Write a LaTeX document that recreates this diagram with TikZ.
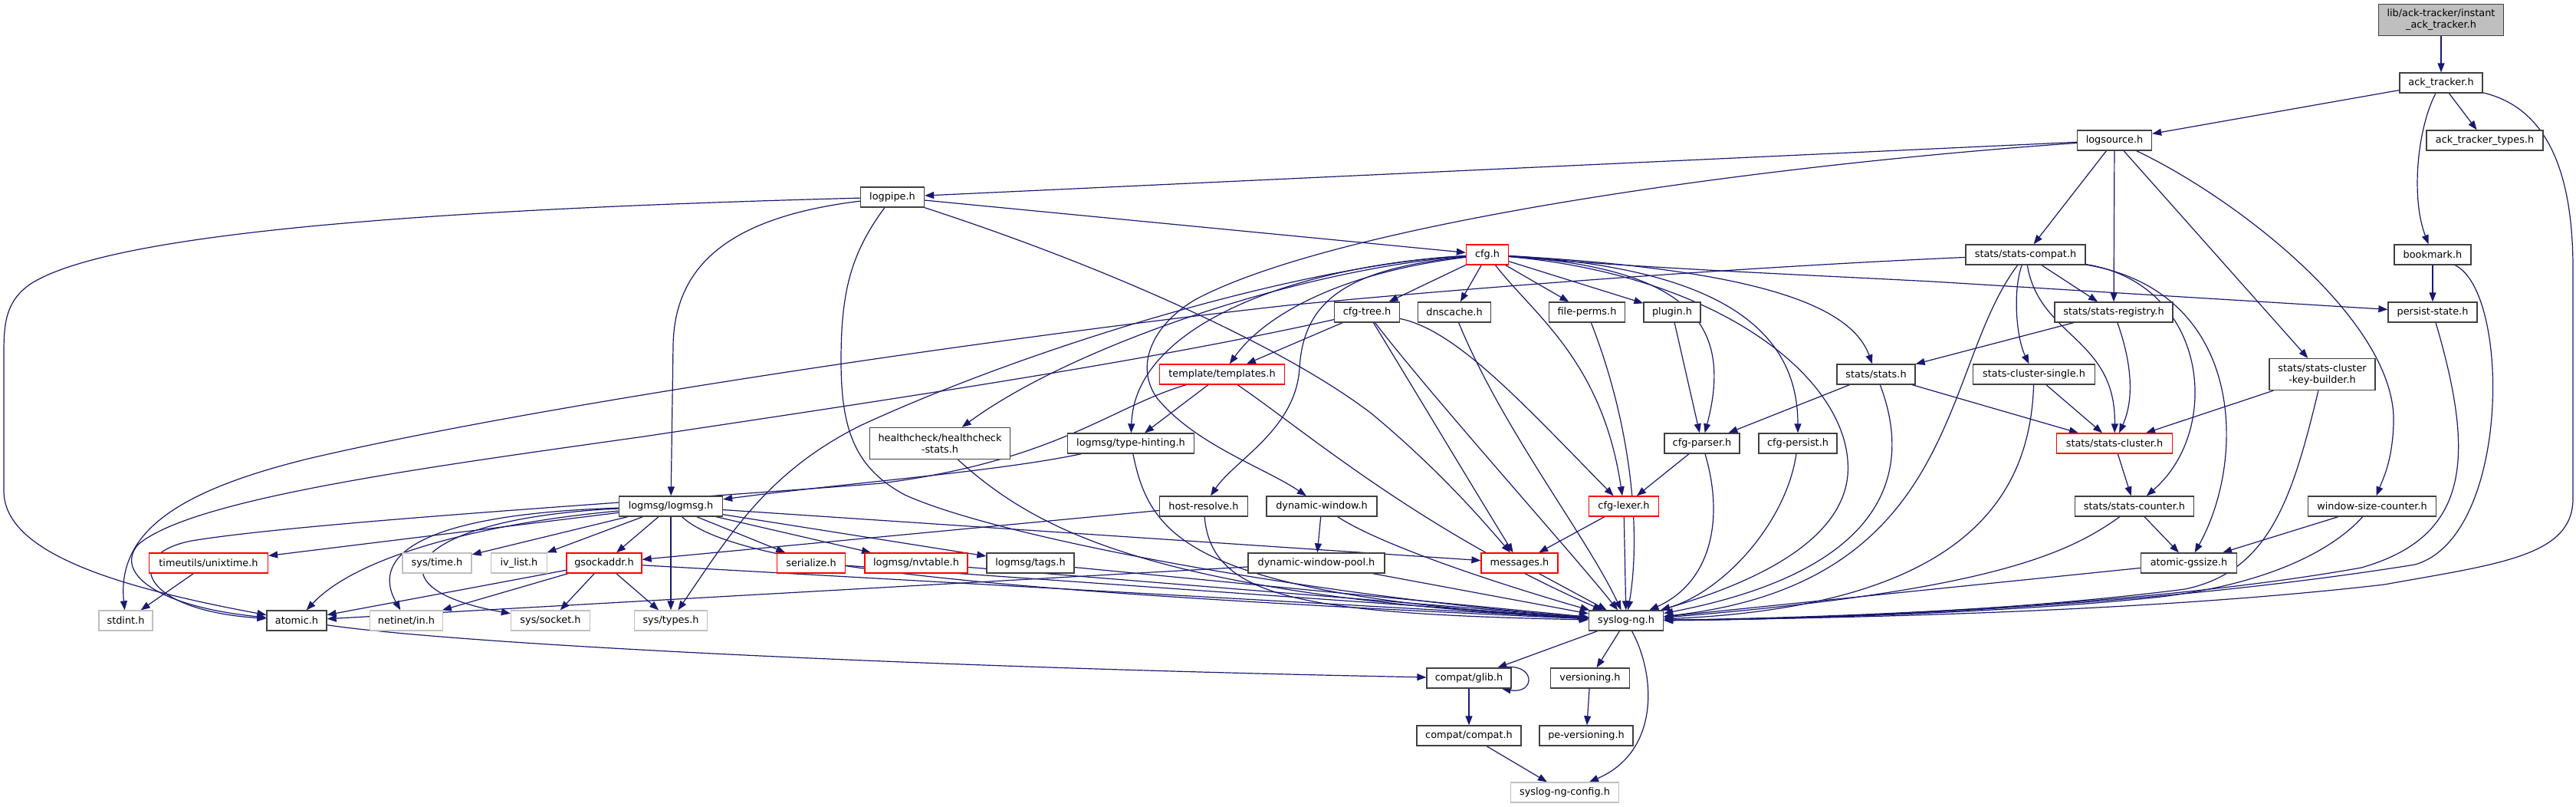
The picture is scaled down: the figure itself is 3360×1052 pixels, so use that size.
\documentclass[tikz,border=0pt]{standalone}
\usepackage{fontspec}
\newfontfamily\dvs{DejaVu Sans}
\usetikzlibrary{arrows.meta}
\definecolor{eblue}{HTML}{191970}
\definecolor{ngray}{HTML}{404040}
\definecolor{lgray}{HTML}{BFBFBF}
\pgfdeclarelayer{bg}
\pgfsetlayers{bg,main}
\begin{document}
\begin{tikzpicture}[x=1pt,y=-1pt,
  nd/.style={draw=ngray, line width=1.3pt, fill=white, inner sep=0pt, minimum height=26pt,
    font=\dvs\fontsize{12.85pt}{15pt}\selectfont, align=center, text=black},
  rd/.style={nd, draw=red},
  gy/.style={nd, draw=lgray},
  tp/.style={nd, fill=lgray, minimum height=41pt},
  e/.style={draw=eblue, line width=1.2pt, -{Triangle[length=12pt,width=9pt]}}]
\useasboundingbox (0,0) rectangle (3360,1052);
% nodes
\node[tp, minimum width=163pt] (top) at (3184,26) {lib/ack-tracker/instant\\\_ack\_tracker.h};
\node[nd, minimum width=108pt] (ackt) at (3184,108) {ack\_tracker.h};
\node[nd, minimum width=97pt] (logsource) at (2758,183) {logsource.h};
\node[nd, minimum width=152pt] (acktypes) at (3241,183) {ack\_tracker\_types.h};
\node[nd, minimum width=83pt] (logpipe) at (1164,257) {logpipe.h};
\node[rd, minimum width=55pt] (cfg) at (1940,332) {cfg.h};
\node[nd, minimum width=156pt] (statscompat) at (2642,332) {stats/stats-compat.h};
\node[nd, minimum width=100pt] (bookmark) at (3173,332) {bookmark.h};
\node[nd, minimum width=85pt] (cfgtree) at (1783,407) {cfg-tree.h};
\node[nd, minimum width=95pt] (dnscache) at (1897,407) {dnscache.h};
\node[nd, minimum width=99pt] (fileperms) at (2070,407) {file-perms.h};
\node[nd, minimum width=74pt] (plugin) at (2181,407) {plugin.h};
\node[nd, minimum width=154pt] (statsreg) at (2757,407) {stats/stats-registry.h};
\node[nd, minimum width=116pt] (persist) at (3173,407) {persist-state.h};
\node[rd, minimum width=163pt] (templates) at (1594,488) {template/templates.h};
\node[nd, minimum width=102pt] (stats) at (2447,488) {stats/stats.h};
\node[nd, minimum width=159pt] (single) at (2653,488) {stats-cluster-single.h};
\node[nd, minimum width=138pt, minimum height=41pt] (keyb) at (3029,488) {stats/stats-cluster\\-key-builder.h};
\node[nd, minimum width=183pt, minimum height=41pt] (health) at (1226,578) {healthcheck/healthcheck\\-stats.h};
\node[nd, minimum width=165pt] (typeh) at (1475,578) {logmsg/type-hinting.h};
\node[nd, minimum width=98pt] (cfgparser) at (2220,578) {cfg-parser.h};
\node[nd, minimum width=102pt] (cfgpersist) at (2345,578) {cfg-persist.h};
\node[rd, minimum width=151pt] (cluster) at (2758,578) {stats/stats-cluster.h};
\node[nd, minimum width=135pt] (logmsg) at (875,660) {logmsg/logmsg.h};
\node[nd, minimum width=115pt] (hostres) at (1570,660) {host-resolve.h};
\node[nd, minimum width=144pt] (dynwin) at (1724,660) {dynamic-window.h};
\node[rd, minimum width=91pt] (cfglexer) at (2118,660) {cfg-lexer.h};
\node[nd, minimum width=155pt] (counter) at (2784,660) {stats/stats-counter.h};
\node[nd, minimum width=167pt] (wsc) at (3094,660) {window-size-counter.h};
\node[rd, minimum width=155pt] (unixtime) at (272,734) {timeutils/unixtime.h};
\node[gy, minimum width=90pt] (systime) at (570,734) {sys/time.h};
\node[gy, minimum width=73pt] (ivlist) at (677,734) {iv\_list.h};
\node[rd, minimum width=98pt] (gsock) at (788,734) {gsockaddr.h};
\node[rd, minimum width=89pt] (serialize) at (1058,734) {serialize.h};
\node[rd, minimum width=134pt] (nvtable) at (1195,734) {logmsg/nvtable.h};
\node[nd, minimum width=114pt] (tags) at (1344,734) {logmsg/tags.h};
\node[nd, minimum width=178pt] (dwpool) at (1717,734) {dynamic-window-pool.h};
\node[rd, minimum width=100pt] (messages) at (1982,734) {messages.h};
\node[nd, minimum width=125pt] (gssize) at (2855,734) {atomic-gssize.h};
\node[gy, minimum width=70pt] (stdint) at (164,809) {stdint.h};
\node[nd, minimum width=78pt] (atomic) at (387,809) {atomic.h};
\node[gy, minimum width=95pt] (netinet) at (530,809) {netinet/in.h};
\node[gy, minimum width=103pt] (syssocket) at (718,809) {sys/socket.h};
\node[gy, minimum width=95pt] (systypes) at (875,809) {sys/types.h};
\node[nd, minimum width=97pt] (syslogng) at (2121,809) {syslog-ng.h};
\node[nd, minimum width=110pt] (glib) at (1916,884) {compat/glib.h};
\node[nd, minimum width=103pt] (versioning) at (2074,884) {versioning.h};
\node[nd, minimum width=136pt] (compat) at (1916,959) {compat/compat.h};
\node[nd, minimum width=122pt] (pever) at (2069,959) {pe-versioning.h};
\node[gy, minimum width=141pt] (config) at (2041,1033) {syslog-ng-config.h};
% edges
\begin{pgfonlayer}{bg}
\draw[e] (top) -- (ackt);
\draw[e] (ackt) -- (logsource);
\draw[e] (ackt) -- (acktypes);
\draw[e] (ackt) .. controls (3152,170) and (3145,260) .. (bookmark);
\draw[e] (ackt) .. controls (3320,140) and (3356,220) .. (3356,350) -- (3356,650) .. controls (3356,725) and (3260,735) .. (3110,762) .. controls (2800,798) and (2400,806) .. (syslogng);
\draw[e] (logsource) -- (logpipe);
\draw[e] (logsource) .. controls (2300,215) and (1750,290) .. (1560,390) .. controls (1500,425) and (1480,480) .. (1510,520) .. controls (1560,580) and (1650,610) .. (dynwin);
\draw[e] (logsource) -- (statscompat);
\draw[e] (logsource) -- (statsreg);
\draw[e] (logsource) -- (keyb);
\draw[e] (logsource) .. controls (2920,260) and (3125,420) .. (3122,550) .. controls (3121,600) and (3108,625) .. (wsc);
\draw[e] (logpipe) .. controls (600,272) and (150,300) .. (40,370) .. controls (8,392) and (5,420) .. (5,460) -- (5,640) .. controls (5,720) and (150,765) .. (atomic);
\draw[e] (logpipe) .. controls (960,282) and (880,340) .. (878,450) -- (logmsg);
\draw[e] (logpipe) .. controls (1110,330) and (1097,380) .. (1097,470) .. controls (1097,560) and (1115,610) .. (1180,645) .. controls (1300,700) and (1700,775) .. (syslogng);
\draw[e] (logpipe) .. controls (1450,350) and (1680,455) .. (1790,540) .. controls (1880,615) and (1935,680) .. (messages);
\draw[e] (logpipe) -- (cfg);
\draw[e] (cfg) -- (cfgtree);
\draw[e] (cfg) -- (dnscache);
\draw[e] (cfg) -- (fileperms);
\draw[e] (cfg) -- (plugin);
\draw[e] (cfg) .. controls (2200,350) and (2262,420) .. (cfgparser);
\draw[e] (cfg) .. controls (2260,350) and (2345,440) .. (cfgpersist);
\draw[e] (cfg) .. controls (2300,352) and (2415,400) .. (stats);
\draw[e] (cfg) .. controls (2150,350) and (2350,358) .. (2520,367) -- (persist);
\draw[e] (cfg) .. controls (1750,355) and (1650,410) .. (templates);
\draw[e] (cfg) .. controls (1700,345) and (1480,420) .. (typeh);
\draw[e] (cfg) .. controls (1700,350) and (1400,450) .. (health);
\draw[e] (cfg) .. controls (1760,350) and (1700,390) .. (1695,480) .. controls (1690,560) and (1610,600) .. (hostres);
\draw[e] (cfg) .. controls (2000,410) and (2090,470) .. (cfglexer);
\draw[e] (cfg) .. controls (2250,360) and (2420,500) .. (2410,620) .. controls (2400,720) and (2250,770) .. (syslogng);
\draw[e] (cfg) .. controls (1700,345) and (1350,450) .. (1124,554) .. controls (1000,615) and (950,700) .. (systypes);
\draw[e] (cfgtree) -- (templates);
\draw[e] (cfgtree) .. controls (1500,470) and (1200,515) .. (840,569) .. controls (550,610) and (250,650) .. (180,710) .. controls (150,745) and (200,790) .. (atomic);
\draw[e] (cfgtree) .. controls (1840,500) and (1930,650) .. (messages);
\draw[e] (cfgtree) .. controls (1870,520) and (2050,720) .. (syslogng);
\draw[e] (cfgtree) .. controls (1900,430) and (1990,530) .. (cfglexer);
\draw[e] (dnscache) .. controls (1960,560) and (2070,700) .. (syslogng);
\draw[e] (fileperms) .. controls (2130,560) and (2140,700) .. (syslogng);
\draw[e] (plugin) -- (cfgparser);
\draw[e] (stats) -- (cfgparser);
\draw[e] (stats) -- (cluster);
\draw[e] (stats) .. controls (2490,600) and (2480,740) .. (syslogng);
\draw[e] (statscompat) .. controls (2300,347) and (1950,372) .. (1680,398) .. controls (1300,440) and (700,528) .. (402,598) .. controls (240,638) and (152,690) .. (stdint);
\draw[e] (statscompat) .. controls (2530,480) and (2560,760) .. (syslogng);
\draw[e] (statscompat) .. controls (2625,380) and (2630,440) .. (single);
\draw[e] (statscompat) .. controls (2660,440) and (2760,440) .. (cluster);
\draw[e] (statscompat) -- (statsreg);
\draw[e] (statscompat) .. controls (2880,370) and (2900,560) .. (counter);
\draw[e] (statscompat) .. controls (2930,380) and (2930,600) .. (gssize);
\draw[e] (statsreg) -- (stats);
\draw[e] (statsreg) .. controls (2790,500) and (2775,540) .. (cluster);
\draw[e] (persist) .. controls (3230,600) and (3220,700) .. (3080,740) .. controls (2800,790) and (2400,805) .. (syslogng);
\draw[e] (bookmark) -- (persist);
\draw[e] (bookmark) .. controls (3275,380) and (3275,700) .. (3150,736) .. controls (2800,792) and (2400,806) .. (syslogng);
\draw[e] (single) -- (cluster);
\draw[e] (single) .. controls (2648,650) and (2560,790) .. (syslogng);
\draw[e] (keyb) -- (cluster);
\draw[e] (keyb) .. controls (2990,650) and (2960,745) .. (2850,768) .. controls (2600,800) and (2300,808) .. (syslogng);
\draw[e] (cluster) -- (counter);
\draw[e] (counter) -- (gssize);
\draw[e] (counter) .. controls (2700,720) and (2600,770) .. (syslogng);
\draw[e] (wsc) -- (gssize);
\draw[e] (wsc) .. controls (3040,720) and (2950,765) .. (2800,780) .. controls (2600,800) and (2300,808) .. (syslogng);
\draw[e] (gssize) -- (syslogng);
\draw[e] (templates) -- (typeh);
\draw[e] (templates) .. controls (1450,530) and (1380,600) .. (1150,630) .. controls (900,650) and (400,680) .. (250,705) .. controls (160,722) and (180,795) .. (atomic);
\draw[e] (templates) .. controls (1700,560) and (1850,690) .. (syslogng);
\draw[e] (health) .. controls (1350,690) and (1500,775) .. (syslogng);
\draw[e] (typeh) .. controls (1300,615) and (1100,630) .. (logmsg);
\draw[e] (typeh) .. controls (1500,700) and (1550,775) .. (syslogng);
\draw[e] (cfgparser) -- (cfglexer);
\draw[e] (cfgparser) .. controls (2250,680) and (2230,760) .. (syslogng);
\draw[e] (cfgpersist) .. controls (2330,680) and (2250,770) .. (syslogng);
\draw[e] (cfglexer) -- (messages);
\draw[e] (cfglexer) -- (syslogng);
\draw[e] (hostres) -- (gsock);
\draw[e] (hostres) .. controls (1580,780) and (1700,800) .. (syslogng);
\draw[e] (dynwin) -- (dwpool);
\draw[e] (dynwin) .. controls (1800,710) and (1950,760) .. (syslogng);
\draw[e] (dwpool) -- (atomic);
\draw[e] (dwpool) -- (syslogng);
\draw[e] (messages) -- (syslogng);
\draw[e] (logmsg) -- (unixtime);
\draw[e] (logmsg) .. controls (650,680) and (470,720) .. (atomic);
\draw[e] (logmsg) -- (systime);
\draw[e] (logmsg) -- (ivlist);
\draw[e] (logmsg) -- (gsock);
\draw[e] (logmsg) .. controls (560,670) and (480,720) .. (netinet);
\draw[e] (logmsg) .. controls (540,675) and (470,765) .. (syssocket);
\draw[e] (logmsg) -- (systypes);
\draw[e] (logmsg) -- (serialize);
\draw[e] (logmsg) -- (nvtable);
\draw[e] (logmsg) -- (tags);
\draw[e] (logmsg) -- (messages);
\draw[e] (logmsg) .. controls (960,740) and (1300,772) .. (syslogng);
\draw[e] (unixtime) -- (stdint);
\draw[e] (gsock) -- (atomic);
\draw[e] (gsock) -- (netinet);
\draw[e] (gsock) -- (syssocket);
\draw[e] (gsock) -- (systypes);
\draw[e] (gsock) -- (syslogng);
\draw[e] (serialize) -- (syslogng);
\draw[e] (nvtable) -- (syslogng);
\draw[e] (tags) -- (syslogng);
\draw[e] (atomic) .. controls (600,840) and (1200,870) .. (glib);
\draw[e] (syslogng) -- (glib);
\draw[e] (syslogng) -- (versioning);
\draw[e] (syslogng) .. controls (2160,880) and (2165,980) .. (config);
\draw[e] ([xshift=-13pt]glib.north east) .. controls +(45,-8) and +(45,8) .. ([xshift=-13pt]glib.south east);
\draw[e] (glib) -- (compat);
\draw[e] (compat) -- (config);
\draw[e] (versioning) -- (pever);
\end{pgfonlayer}
\end{tikzpicture}
\end{document}
